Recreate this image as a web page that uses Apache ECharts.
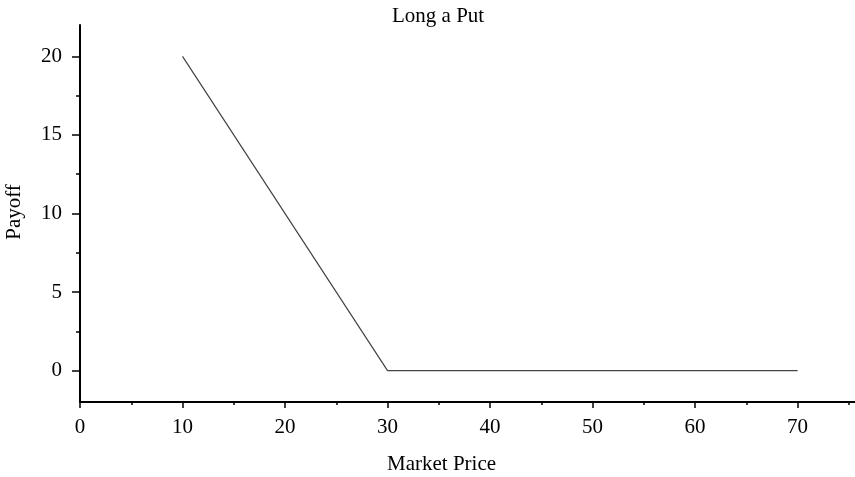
<!DOCTYPE html>
<html>
<head>
<meta charset="utf-8">
<script src="https://cdn.jsdelivr.net/npm/echarts@6/dist/echarts.min.js"></script>
<style>
html,body{margin:0;padding:0;background:#fff;}
#chart{width:855px;height:477px;}
</style>
</head>
<body>
<div id="chart"></div>
<script>
// Data
const marketPrice = [10, 30, 70];
const payoff = [20, 0, 0];
const xTicks = [0, 10, 20, 30, 40, 50, 60, 70];
const xMinorTicks = [5, 15, 25, 35, 45, 55, 65, 75];
const yTicks = [0, 5, 10, 15, 20];
const yMinorTicks = [2.5, 7.5, 12.5, 17.5];
const titleText = 'Long a Put';
const xName = 'Market Price';
const yName = 'Payoff';

const FONT = '"Liberation Serif", "Times New Roman", serif';
const chart = echarts.init(document.getElementById('chart'), null, {renderer: 'canvas'});

const xRange = [0, 75.6];
const yRange = [-2, 22];

function xAxisBase(extra) {
  return Object.assign({
    type: 'value', min: xRange[0], max: xRange[1], position: 'bottom',
    axisLine: {show: true, onZero: false, lineStyle: {color: '#000', width: 2}},
    splitLine: {show: false}
  }, extra);
}
function yAxisBase(extra) {
  return Object.assign({
    type: 'value', min: yRange[0], max: yRange[1], position: 'left',
    axisLine: {show: true, onZero: false, lineStyle: {color: '#000', width: 2}},
    splitLine: {show: false}
  }, extra);
}

const points = marketPrice.map((x, i) => [x, payoff[i]]);

chart.setOption({
  backgroundColor: '#fff',
  animation: false,
  grid: {left: 80, right: 0, top: 25, bottom: 75, outerBoundsMode: 'none', containLabel: false},
  xAxis: [
    xAxisBase({
      axisTick: {show: true, inside: false, length: 6, customValues: xTicks, lineStyle: {color: '#000', width: 1.5}},
      axisLabel: {show: true, customValues: xTicks, margin: 15, color: '#000', fontFamily: FONT, fontSize: 21}
    }),
    xAxisBase({
      axisLine: {show: false, onZero: false},
      axisTick: {show: true, inside: false, length: 3, customValues: xMinorTicks, lineStyle: {color: '#000', width: 1.5}},
      axisLabel: {show: false}
    })
  ],
  yAxis: [
    yAxisBase({
      axisTick: {show: true, inside: false, length: 8, customValues: yTicks, lineStyle: {color: '#000', width: 1.5}},
      axisLabel: {show: true, customValues: yTicks, margin: 18, color: '#000', fontFamily: FONT, fontSize: 21}
    }),
    yAxisBase({
      axisLine: {show: false, onZero: false},
      axisTick: {show: true, inside: false, length: 4, customValues: yMinorTicks, lineStyle: {color: '#000', width: 1.5}},
      axisLabel: {show: false}
    })
  ],
  series: [{
    type: 'line',
    xAxisIndex: 0, yAxisIndex: 0,
    data: points,
    showSymbol: false,
    symbol: 'none',
    lineStyle: {color: '#444', width: 1.2},
    silent: true
  }],
  graphic: [
    {type: 'text', left: 392, top: 6, style: {text: titleText, fill: '#000', font: '21px ' + FONT}},
    {type: 'text', left: 387, top: 454, style: {text: xName, fill: '#000', font: '21px ' + FONT}},
    {type: 'text', x: 14, y: 212, rotation: Math.PI / 2,
     style: {text: yName, fill: '#000', font: '21px ' + FONT, align: 'center', verticalAlign: 'middle'}}
  ]
});
</script>
</body>
</html>
